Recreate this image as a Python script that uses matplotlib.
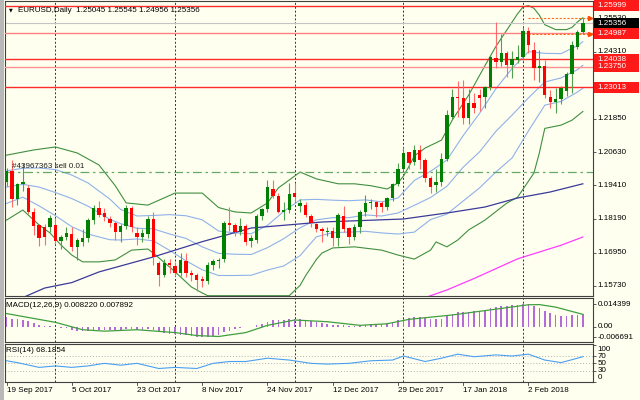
import matplotlib
matplotlib.use("Agg")
import matplotlib.pyplot as plt
from matplotlib.patches import Rectangle
import matplotlib.transforms as mtransforms
import numpy as np

# EURUSD daily candles, 19 Sep 2017 .. 16 Feb 2018 (one entry per bar)
opens = [1.1955, 1.1995, 1.1893, 1.1945, 1.1930, 1.1845, 1.1795, 1.1789, 1.1789, 1.1796,
         1.1737, 1.1752, 1.1763, 1.1716, 1.1734, 1.1749, 1.1814, 1.1858, 1.1840, 1.1818,
         1.1803, 1.1770, 1.1792, 1.1858, 1.1767, 1.1752, 1.1763, 1.1818, 1.1657, 1.1613,
         1.1657, 1.1645, 1.1620, 1.1664, 1.1620, 1.1613, 1.1600, 1.1592, 1.1650, 1.1664,
         1.1671, 1.1803, 1.1796, 1.1770, 1.1792, 1.1737, 1.1741, 1.1829, 1.1854, 1.1928,
         1.1902, 1.1845, 1.1851, 1.1913, 1.1866, 1.1868, 1.1829, 1.1799, 1.1781, 1.1770,
         1.1774, 1.1748, 1.1829, 1.1785, 1.1752, 1.1789, 1.1844, 1.1876, 1.1880, 1.1876,
         1.1861, 1.1894, 1.1946, 1.2001, 1.2063, 1.2027, 1.2071, 1.2034, 1.1968, 1.1942,
         1.1953, 1.2038, 1.2192, 1.2265, 1.2261, 1.2188, 1.2243, 1.2272, 1.2265, 1.2301,
         1.2408, 1.2393, 1.2426, 1.2382, 1.2401, 1.2412, 1.2507, 1.2437, 1.2371, 1.2379,
         1.2265, 1.2247, 1.2258, 1.2287, 1.2349, 1.2448, 1.25045]
highs = [1.2005, 1.2034, 1.1950, 1.2023, 1.1943, 1.1860, 1.1800, 1.1800, 1.1832, 1.1821,
         1.1760, 1.1789, 1.1789, 1.1750, 1.1780, 1.1820, 1.1870, 1.1884, 1.1860, 1.1830,
         1.1810, 1.1798, 1.1870, 1.1865, 1.1790, 1.1780, 1.1830, 1.1844, 1.1665, 1.1670,
         1.1670, 1.1660, 1.1693, 1.1693, 1.1630, 1.1620, 1.1610, 1.1660, 1.1670, 1.1675,
         1.1810, 1.1862, 1.1805, 1.1822, 1.1800, 1.1760, 1.1835, 1.1860, 1.1961, 1.1961,
         1.1915, 1.1880, 1.1950, 1.1950, 1.1890, 1.1880, 1.1835, 1.1805, 1.1789, 1.1790,
         1.1790, 1.1840, 1.1865, 1.1790, 1.1800, 1.1850, 1.1906, 1.1890, 1.1885, 1.1885,
         1.1900, 1.1950, 1.2023, 1.2081, 1.2065, 1.2090, 1.2088, 1.2040, 1.1975, 1.2000,
         1.2060, 1.2218, 1.2296, 1.2323, 1.2327, 1.2296, 1.2280, 1.2295, 1.2305, 1.2420,
         1.2540, 1.2496, 1.2435, 1.2435, 1.2455, 1.2520, 1.2520, 1.2465, 1.2437, 1.2400,
         1.2290, 1.2298, 1.2305, 1.2355, 1.2470, 1.2511, 1.25545]
lows = [1.1940, 1.1861, 1.1868, 1.1920, 1.1835, 1.1760, 1.1720, 1.1722, 1.1770, 1.1728,
        1.1708, 1.1740, 1.1700, 1.1669, 1.1720, 1.1735, 1.1800, 1.1825, 1.1810, 1.1790,
        1.1741, 1.1734, 1.1780, 1.1770, 1.1723, 1.1735, 1.1750, 1.1650, 1.1574, 1.1605,
        1.1620, 1.1610, 1.1610, 1.1605, 1.1590, 1.1554, 1.1570, 1.1580, 1.1630, 1.1640,
        1.1660, 1.1775, 1.1755, 1.1760, 1.1722, 1.1715, 1.1730, 1.1815, 1.1845, 1.1895,
        1.1840, 1.1814, 1.1840, 1.1880, 1.1845, 1.1825, 1.1790, 1.1770, 1.1734, 1.1755,
        1.1718, 1.1718, 1.1770, 1.1727, 1.1740, 1.1765, 1.1830, 1.1855, 1.1825, 1.1845,
        1.1850, 1.1885, 1.1940, 1.1995, 1.2003, 1.2015, 1.2000, 1.1955, 1.1915, 1.1916,
        1.1940, 1.2030, 1.2185, 1.2190, 1.2165, 1.2165, 1.2205, 1.2215, 1.2225, 1.2290,
        1.2371, 1.2380, 1.2338, 1.2335, 1.2390, 1.2400, 1.2425, 1.2327, 1.2320, 1.2260,
        1.2225, 1.2206, 1.2240, 1.2270, 1.2280, 1.2440, 1.24956]
closes = [1.1995, 1.1893, 1.1945, 1.1952, 1.1845, 1.1792, 1.1750, 1.1752, 1.1821, 1.1737,
          1.1752, 1.1767, 1.1716, 1.1741, 1.1749, 1.1814, 1.1858, 1.1832, 1.1825, 1.1803,
          1.1770, 1.1792, 1.1858, 1.1789, 1.1752, 1.1767, 1.1818, 1.1679, 1.1613, 1.1657,
          1.1650, 1.1620, 1.1668, 1.1620, 1.1613, 1.1595, 1.1590, 1.1650, 1.1664, 1.1668,
          1.1803, 1.1796, 1.1770, 1.1792, 1.1734, 1.1749, 1.1829, 1.1854, 1.1935, 1.1902,
          1.1845, 1.1851, 1.1910, 1.1900, 1.1876, 1.1832, 1.1803, 1.1781, 1.1775, 1.1775,
          1.1748, 1.1832, 1.1781, 1.1752, 1.1789, 1.1844, 1.1876, 1.1880, 1.1861, 1.1861,
          1.1894, 1.1946, 1.2001, 1.2060, 1.2023, 1.2071, 1.2034, 1.1968, 1.1935, 1.1953,
          1.2038, 1.2199, 1.2265, 1.2261, 1.2188, 1.2243, 1.2225, 1.2262, 1.2301, 1.2412,
          1.2393, 1.2426, 1.2382, 1.2404, 1.2412, 1.2507, 1.2456, 1.2371, 1.2379, 1.2272,
          1.2247, 1.2258, 1.2298, 1.2349, 1.2456, 1.2504, 1.25356]

# Bollinger bands (bar index, price)
bb_outer_up_bars = [0, 5, 9, 13, 17, 20, 22, 26, 31, 34, 36, 39, 42, 45, 48, 50, 52, 54, 57, 61,
                    64, 67, 70, 72, 73, 74, 75, 77, 80, 82, 85, 88, 90, 92, 94, 95, 96, 97, 98,
                    99, 101, 103, 104, 105, 106]
bb_outer_up = [1.2052, 1.2071, 1.2082, 1.2060, 1.2016, 1.1940, 1.1877, 1.1869, 1.1913, 1.1913,
               1.1913, 1.1860, 1.1844, 1.1840, 1.1877, 1.1932, 1.1961, 1.1990, 1.1965, 1.1947,
               1.1947, 1.1940, 1.1928, 1.1950, 1.1975, 1.2010, 1.2049, 1.2078, 1.2107, 1.2181,
               1.2272, 1.2380, 1.2450, 1.2510, 1.2570, 1.2595, 1.2600, 1.2590, 1.2565, 1.2530,
               1.2512, 1.2512, 1.2520, 1.2540, 1.2555]
bb_outer_lo_bars = [0, 3, 6, 8, 10, 12, 14, 17, 20, 23, 26, 27, 30, 32, 34, 36, 37, 52, 54, 55,
                    57, 58, 60, 64, 69, 72, 75, 78, 79, 81, 83, 85, 88, 92, 94, 97, 98, 99, 102,
                    104, 106]
bb_outer_lo = [1.1814, 1.1851, 1.1796, 1.1767, 1.1723, 1.1686, 1.1661, 1.1661, 1.1668, 1.1704,
               1.1708, 1.1693, 1.1642, 1.1606, 1.1569, 1.1547, 1.1537, 1.1537, 1.1575, 1.1610,
               1.1670, 1.1693, 1.1712, 1.1716, 1.1704, 1.1686, 1.1671, 1.1704, 1.1734, 1.1716,
               1.1741, 1.1778, 1.1814, 1.1876, 1.1898, 1.1986, 1.2060, 1.2150, 1.2162, 1.2180,
               1.2212]
bb_bars = [0, 3, 6, 9, 12, 15, 19, 21, 24, 27, 30, 33, 36, 39, 42, 45, 48, 51, 54, 57, 60, 63,
           66, 69, 72, 75, 78, 81, 84, 87, 90, 93, 96, 99, 102, 105, 106]
bb_mid = [1.1935, 1.1945, 1.1935, 1.1915, 1.1893, 1.1865, 1.1817, 1.1801, 1.1784, 1.1782,
          1.1763, 1.1747, 1.1716, 1.1692, 1.1689, 1.1688, 1.1713, 1.1746, 1.1786, 1.1815,
          1.1823, 1.1823, 1.1833, 1.1829, 1.1840, 1.1868, 1.1897, 1.1938, 1.2008, 1.2064,
          1.2139, 1.2199, 1.2262, 1.2320, 1.2335, 1.2365, 1.2381]
bb_inner_up = [1.1994, 1.2004, 1.2005, 1.1999, 1.1979, 1.1950, 1.1891, 1.1853, 1.1829, 1.1831,
               1.1834, 1.1830, 1.1815, 1.1774, 1.1767, 1.1764, 1.1795, 1.1846, 1.1888, 1.1890,
               1.1887, 1.1885, 1.1888, 1.1881, 1.1895, 1.1959, 1.1993, 1.2034, 1.2124, 1.2205,
               1.2295, 1.2370, 1.2431, 1.2425, 1.2424, 1.2453, 1.2468]
bb_inner_lo = [1.1875, 1.1898, 1.1866, 1.1830, 1.1790, 1.1763, 1.1742, 1.1741, 1.1745, 1.1738,
               1.1703, 1.1665, 1.1632, 1.1611, 1.1611, 1.1612, 1.1631, 1.1646, 1.1684, 1.1753,
               1.1768, 1.1770, 1.1773, 1.1767, 1.1763, 1.1770, 1.1816, 1.1836, 1.1884, 1.1932,
               1.1990, 1.2042, 1.2141, 1.2235, 1.2249, 1.2283, 1.2297]

# slow moving averages
ma_slow_bars = [3, 7, 12, 17, 27, 36, 45, 54, 58, 73, 82, 88, 94, 100, 106]
ma_slow = [1.1530, 1.1565, 1.1585, 1.1624, 1.1679, 1.1735, 1.1785, 1.1800, 1.1807, 1.1818,
           1.1843, 1.1862, 1.1895, 1.1917, 1.1947]
ma_long_bars = [77, 81, 86, 90, 94, 98, 102, 106]
ma_long = [1.1530, 1.1558, 1.1600, 1.1636, 1.1672, 1.1697, 1.1722, 1.1752]

levels = [1.25999, 1.24987, 1.24038, 1.23750, 1.23013]
level_colors = ["#ff2a2a", "#ff8080", "#ff2a2a", "#ff9090", "#ff2a2a"]
price_ticks = [1.25530, 1.24310, 1.21850, 1.20630, 1.19410, 1.18190, 1.16950, 1.15730]
last_price = 1.25356
order_price = 1.19902
arrow_prices = [1.2553, 1.2495]

# MACD(12,26,9): main as histogram, signal as line
macd_main = [0.0060, 0.0052, 0.0047, 0.0043, 0.0035, 0.0025, 0.0014, 0.0006, 0.0004, -0.0003,
             -0.0008, -0.0011, -0.0020, -0.0025, -0.0027, -0.0026, -0.0022, -0.0020, -0.0019, -0.0019,
             -0.0021, -0.0021, -0.0015, -0.0015, -0.0018, -0.0019, -0.0015, -0.0020, -0.0033, -0.0038,
             -0.0043, -0.0048, -0.0050, -0.0054, -0.0058, -0.0062, -0.0066, -0.0063, -0.0058, -0.0052,
             -0.0036, -0.0024, -0.0016, -0.0007, -0.0004, 0.0000, 0.0010, 0.0020, 0.0033, 0.0040,
             0.0042, 0.0044, 0.0049, 0.0051, 0.0050, 0.0045, 0.0038, 0.0030, 0.0024, 0.0019,
             0.0012, 0.0014, 0.0010, 0.0005, 0.0004, 0.0008, 0.0013, 0.0017, 0.0019, 0.0020,
             0.0024, 0.0031, 0.0040, 0.0050, 0.0054, 0.0060, 0.0061, 0.0056, 0.0050, 0.0047,
             0.0052, 0.0066, 0.0081, 0.0091, 0.0093, 0.0097, 0.0098, 0.0101, 0.0106, 0.0118,
             0.0124, 0.0130, 0.0134, 0.0136, 0.0137, 0.0142, 0.0143, 0.0135, 0.0118, 0.0100,
             0.0086, 0.0076, 0.0070, 0.0068, 0.0072, 0.0078, 0.0082]
signal_bars = [0, 9, 14, 18, 24, 31, 35, 39, 44, 48, 53, 59, 65, 70, 74, 82, 90, 96, 98, 101, 106]
signal = [0.0084, 0.0028, -0.0019, -0.0028, -0.0019, -0.0037, -0.0056, -0.0062, -0.0037, 0.0009,
          0.0043, 0.0032, 0.0009, 0.0019, 0.0047, 0.0075, 0.0112, 0.0140, 0.0141, 0.0125, 0.0079]
macd_ticks = [0.014399, 0.0, -0.006691]

# RSI(14)
rsi_bars = [0, 2, 6, 9, 12, 15, 18, 21, 24, 28, 31, 35, 38, 41, 44, 48, 52, 56, 59, 63, 67, 71,
            73, 77, 80, 83, 86, 90, 93, 96, 99, 102, 105, 106]
rsi = [57, 52, 39, 43, 39, 43, 50, 45, 50, 36, 39, 36, 50, 55, 55, 64, 59, 50, 48, 50, 57, 59,
       70, 55, 64, 75, 68, 73, 70, 75, 59, 52, 64, 68.1854]
rsi_levels = [70, 50, 30]

date_labels = ["19 Sep 2017", "5 Oct 2017", "23 Oct 2017", "8 Nov 2017", "24 Nov 2017",
               "12 Dec 2017", "29 Dec 2017", "17 Jan 2018", "2 Feb 2018"]
date_bars = [0, 12, 24, 36, 48, 60, 72, 84, 96]
month_bars = [9, 31, 53, 73, 95]

BG = "#fffff0"
FS = 5.8
plt.rcParams["font.family"] = ["Liberation Sans", "DejaVu Sans"]


def frame(ax):
    ax.set_facecolor(BG)
    for s in ax.spines.values():
        s.set_color("#404040")
        s.set_linewidth(0.8)
    ax.set_xlim(-0.28, 107.87)
    ax.set_xticks([])
    ax.yaxis.tick_right()
    ax.tick_params(axis="y", length=2.5, width=0.6, color="#404040", labelright=False)
    for b in month_bars:
        ax.axvline(b, color="#303030", ls=(0, (2, 2)), lw=0.7, zorder=1)


def side_label(ax, y, txt, fc=None):
    tr = ax.get_yaxis_transform()
    if fc is not None:
        h = 11.0 / ax.bbox.height * (ax.get_ylim()[1] - ax.get_ylim()[0])
        ax.add_patch(Rectangle((1.002, y - h / 2), 0.076, h, transform=tr,
                               fc=fc, ec="none", clip_on=False, zorder=7))
        col, z = "white", 8
    else:
        col, z = "black", 6
    ax.text(1.008, y, txt, transform=tr, ha="left", va="center",
            fontsize=FS, color=col, clip_on=False, zorder=z)


def draw_main(ax):
    x = np.arange(len(opens))
    o = np.array(opens)
    c = np.array(closes)
    up = c >= o
    body_col = np.where(up, "#008000", "#ff0000")
    wick_col = np.where(up, "#4fa04f", "#ff6a6a")

    ax.plot(bb_outer_up_bars, bb_outer_up, color="#3f8f3f", lw=0.8, zorder=2)
    ax.plot(bb_outer_lo_bars, bb_outer_lo, color="#3f8f3f", lw=0.8, zorder=2)
    for line in (bb_inner_up, bb_mid, bb_inner_lo):
        ax.plot(bb_bars, line, color="#8fb1ea", lw=0.8, zorder=2)
    ax.plot(ma_slow_bars, ma_slow, color="#3a3a9a", lw=0.9, zorder=2)
    ax.plot(ma_long_bars, ma_long, color="#ff3cff", lw=0.9, zorder=2)

    for lv, col in zip(levels, level_colors):
        ax.axhline(lv, color=col, lw=1.0, zorder=3)
    ax.axhline(last_price, color="#c4c4c4", lw=0.8, zorder=2)
    ax.axhline(order_price, color="#66a866", lw=0.9, ls=(0, (7, 3, 2, 3)), zorder=2)
    ax.text(1.0, order_price + 0.0006, "#43967363 sell 0.01", fontsize=FS,
            color="#202020", va="bottom", ha="left", zorder=6)

    ax.vlines(x, lows, highs, colors=wick_col, lw=0.8, zorder=4)
    ax.bar(x, np.maximum(np.abs(c - o), 0.00008), bottom=np.minimum(o, c),
           width=0.62, color=body_col, lw=0, zorder=5)

    for ap in arrow_prices:
        ax.plot([95.9, 107.1], [ap, ap], color="#ff6a1a", lw=0.8, ls=(0, (2, 1.5)), zorder=4)
        ax.plot([107.3], [ap], marker=">", ms=3, color="#ff4a00", zorder=4, clip_on=False)

    ax.set_ylim(1.15359, 1.26168)
    ax.set_yticks(price_ticks + levels + [last_price])
    for p in price_ticks:
        side_label(ax, p, "%.5f" % p)
    side_label(ax, last_price, "%.5f" % last_price, fc="#000000")
    for lv in levels:
        side_label(ax, lv, "%.5f" % lv, fc="#ff1a1a")


def draw_macd(ax):
    x = np.arange(len(macd_main))
    ax.bar(x, macd_main, width=0.3, color="#b46ad8", lw=0, zorder=3)
    ax.plot(signal_bars, signal, color="#3f9f3f", lw=0.9, zorder=4)
    ax.set_ylim(-0.0097, 0.0183)
    ax.set_yticks(macd_ticks)
    for t, s in zip(macd_ticks, ["0.014399", "0.00", "-0.006691"]):
        side_label(ax, t, s)
    ax.text(0.002, 0.82, "MACD(12,26,9) 0.008220 0.007892", transform=ax.transAxes,
            fontsize=FS, va="center", ha="left")


def draw_rsi(ax):
    for lv in rsi_levels:
        ax.axhline(lv, color="#b0b0b0", lw=0.7, ls=(0, (1, 2)), zorder=2)
    ax.plot(rsi_bars, rsi, color="#4a9ff0", lw=0.8, zorder=3)
    ax.set_ylim(-0.8, 102.7)
    ax.set_yticks([100, 70, 50, 30, 0])
    # 100 and 0 labels are pushed inside the window like the terminal does
    for pos, s in zip([89, 70, 50, 30, 11], ["100", "70", "50", "30", "0"]):
        side_label(ax, pos, s)
    ax.text(0.002, 0.82, "RSI(14) 68.1854", transform=ax.transAxes,
            fontsize=FS, va="center", ha="left")
    tr = mtransforms.blended_transform_factory(ax.transData, ax.transAxes)
    for b, lab in zip(date_bars, date_labels):
        ax.plot([b, b], [0, -0.08], color="#404040", lw=0.6, transform=tr, clip_on=False)
        ax.text(b, -0.22, lab, transform=tr, fontsize=FS, ha="left", va="center")


def main():
    fig = plt.figure(figsize=(6.4, 4.0), dpi=100, facecolor=BG)
    W, H = 640.0, 400.0
    ax_main = fig.add_axes([5 / W, 1 - 296 / H, 588 / W, 295 / H])
    ax_macd = fig.add_axes([5 / W, 1 - 342 / H, 588 / W, 44 / H])
    ax_rsi = fig.add_axes([5 / W, 1 - 382 / H, 588 / W, 38 / H])
    for ax in (ax_main, ax_macd, ax_rsi):
        frame(ax)
    draw_main(ax_main)
    draw_macd(ax_macd)
    draw_rsi(ax_rsi)

    fig.patches.append(Rectangle((0, 0), 4 / W, 1, transform=fig.transFigure,
                                 fc="#b8b8b8", ec="none"))
    fig.text(9 / W, 1 - 10 / H, "\u25bc", fontsize=3.5, va="center", ha="left",
             family="DejaVu Sans")
    fig.text(18 / W, 1 - 10 / H, "EURUSD,Daily  1.25045 1.25545 1.24956 1.25356",
             fontsize=FS, va="center", ha="left")
    fig.savefig("out.png", dpi=100, facecolor=BG)


if __name__ == "__main__":
    main()
